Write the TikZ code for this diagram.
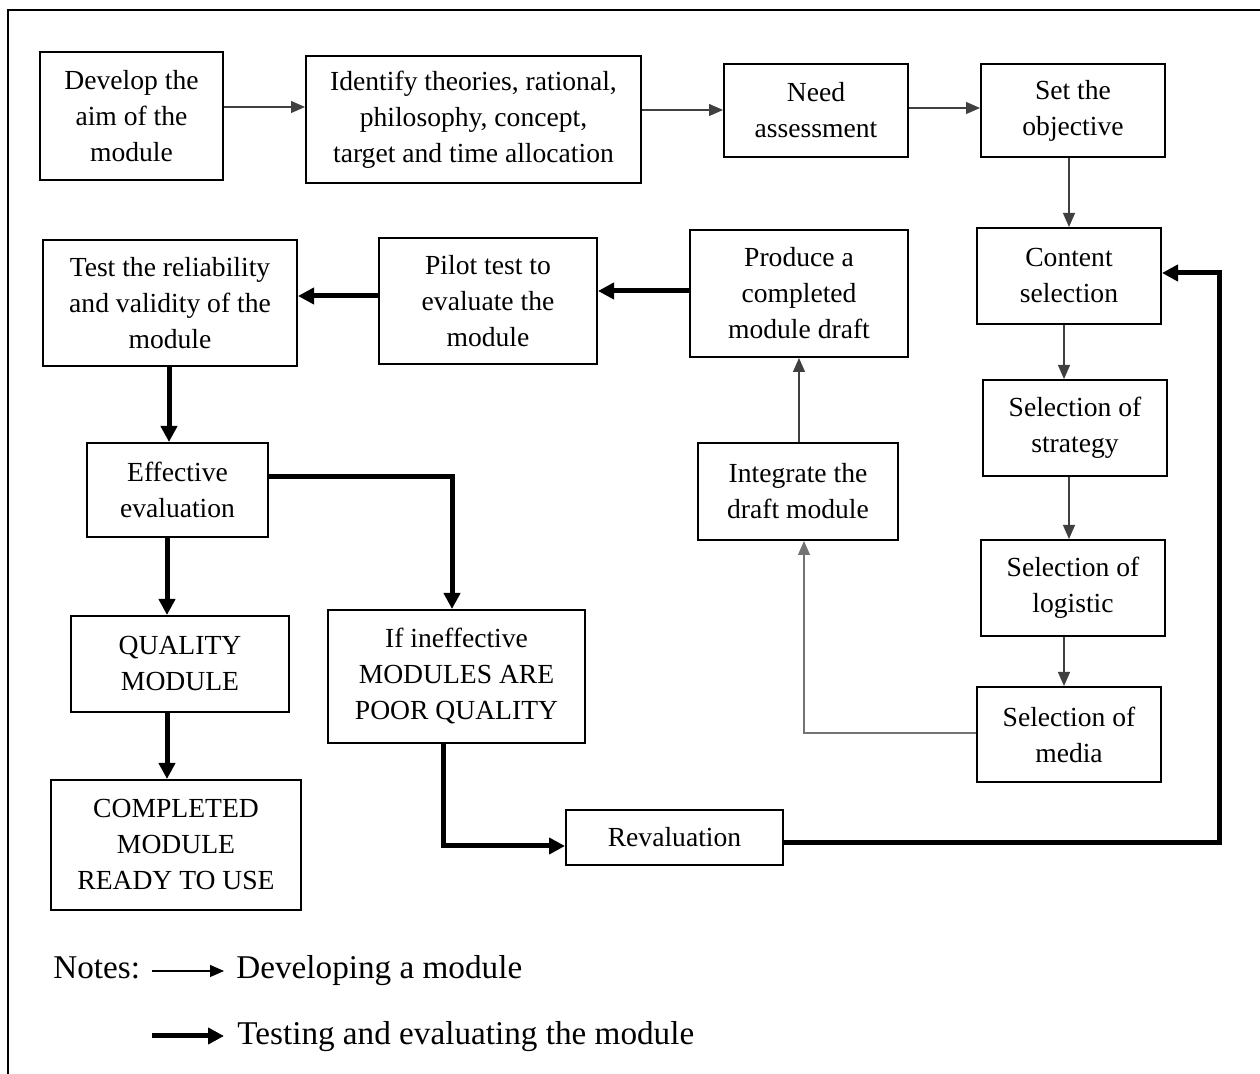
\documentclass[tikz,border=0pt]{standalone}
\usepackage{fontspec}
\setmainfont{Liberation Serif}
\usetikzlibrary{arrows.meta}
\begin{document}
\begin{tikzpicture}[x=0.5pt,y=-0.5pt,
  box/.style={draw,line width=1pt,align=center,inner sep=0pt,
    font=\fontsize{13.8}{18}\selectfont},
  thinarrow/.style={draw=black!75,line width=0.6pt,-{Triangle[length=7pt,width=6pt]}},
  thickarrow/.style={draw=black,line width=2.5pt,-{Triangle[length=8pt,width=8pt]}},
  legendtext/.style={anchor=base west,inner sep=0pt,font=\fontsize{16.6}{20}\selectfont}]
\useasboundingbox (0,0) rectangle (1260,1074);
% frame
\draw[line width=1pt] (8,1074) -- (8,10) -- (1260,10);
% boxes
\node[box,minimum width=91.5pt,minimum height=64pt] (d1) at (131.5,116) {Develop the\\aim of the\\module};
\node[box,minimum width=167.5pt,minimum height=63.5pt] (d2) at (473.5,119.5) {Identify theories, rational,\\philosophy, concept,\\target and time allocation};
\node[box,minimum width=92pt,minimum height=46.5pt] (d3) at (816,110.5) {Need\\assessment};
\node[box,minimum width=92pt,minimum height=46.5pt] (d4) at (1073,110.5) {Set the\\objective};
\node[box,minimum width=92pt,minimum height=48pt] (d5) at (1069,276) {Content\\selection};
\node[box,minimum width=92pt,minimum height=48pt] (d6) at (1075,428) {Selection of\\strategy};
\node[box,minimum width=92pt,minimum height=48pt] (d7) at (1073,588) {Selection of\\logistic};
\node[box,minimum width=92pt,minimum height=47.5pt] (d8) at (1069,734.5) {Selection of\\media};
\node[box,minimum width=100pt,minimum height=48.5pt] (d9) at (798,491.5) {Integrate the\\draft module};
\node[box,minimum width=109pt,minimum height=63.5pt] (d10) at (799,293.5) {Produce a\\completed\\module draft};
\node[box,minimum width=109pt,minimum height=63pt] (d11) at (488,301) {Pilot test to\\evaluate the\\module};
\node[box,minimum width=127pt,minimum height=63pt] (d12) at (170,303) {Test the reliability\\and validity of the\\module};
\node[box,minimum width=90.5pt,minimum height=47pt] (d13) at (177.5,490) {Effective\\evaluation};
\node[box,minimum width=109pt,minimum height=48pt] (d14) at (180,664) {QUALITY\\MODULE};
\node[box,minimum width=125pt,minimum height=65pt] (d15) at (176,845) {COMPLETED\\MODULE\\READY TO USE};
\node[box,minimum width=128.5pt,minimum height=66.5pt] (d16) at (456.5,676.5) {If ineffective\\MODULES ARE\\POOR QUALITY};
\node[box,minimum width=108.5pt,minimum height=27.5pt] (d17) at (674.5,837.5) {Revaluation};
% developing arrows
\draw[thinarrow] (d1.east |- 0,107) -- (d2.west |- 0,107);
\draw[thinarrow] (d2.east |- 0,110) -- (d3.west |- 0,110);
\draw[thinarrow] (d3.east |- 0,108) -- (d4.west |- 0,108);
\draw[thinarrow] (d4.south -| 1069,0) -- (d5.north -| 1069,0);
\draw[thinarrow] (d5.south -| 1064,0) -- (d6.north -| 1064,0);
\draw[thinarrow] (d6.south -| 1069,0) -- (d7.north -| 1069,0);
\draw[thinarrow] (d7.south -| 1064,0) -- (d8.north -| 1064,0);
\draw[thinarrow,draw=black!55] (d8.west |- 0,733) -| (d9.south -| 804,0);
\draw[thinarrow] (d9.north -| 799,0) -- (d10.south -| 799,0);
% testing arrows
\draw[thickarrow] (d10.west |- 0,291) -- (d11.east |- 0,291);
\draw[thickarrow] (d11.west |- 0,296) -- (d12.east |- 0,296);
\draw[thickarrow] (d12.south -| 169,0) -- (d13.north -| 169,0);
\draw[thickarrow] (d13.south -| 167,0) -- (d14.north -| 167,0);
\draw[thickarrow] (d14.south -| 167,0) -- (d15.north -| 167,0);
\draw[thickarrow] (d13.east |- 0,477) -| (d16.north -| 452,0);
\draw[thickarrow] (d16.south -| 443,0) |- (d17.west |- 0,846);
\coordinate (c1) at (1219,843);
\draw[thickarrow] (d17.east |- c1) -- (c1) |- (d5.east |- 0,273);
% legend
\node[legendtext] (notes) at (53,979) {Notes:};
\coordinate (l1s) at (152,971);
\coordinate (l1e) at (224,971);
\draw[thinarrow,draw=black] (l1s) -- (l1e);
\node[legendtext] (t1) at (236,979) {Developing a module};
\coordinate (l2s) at (152,1036);
\coordinate (l2e) at (224,1036);
\draw[thickarrow] (l2s) -- (l2e);
\node[legendtext] (t2) at (237,1044) {Testing and evaluating the module};
\end{tikzpicture}
\end{document}
